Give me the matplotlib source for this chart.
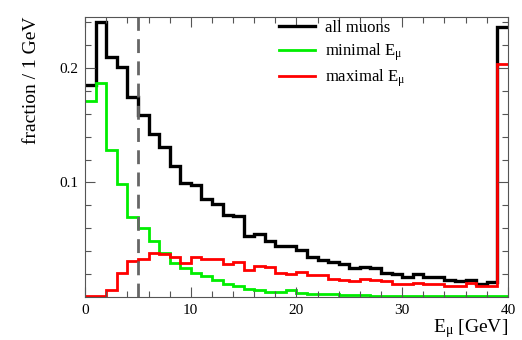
import numpy as np
import matplotlib
matplotlib.use("Agg")
import matplotlib.pyplot as plt

plt.rcParams['font.family'] = ['Liberation Serif', 'DejaVu Serif']
plt.rcParams['mathtext.fontset'] = 'custom'
plt.rcParams['mathtext.rm'] = 'Liberation Serif'
plt.rcParams['mathtext.it'] = 'Liberation Serif:italic'

# 1 GeV bins from 0 to 40 GeV
bin_edges = np.arange(0, 41, 1)

all_muons = [0.1855, 0.240, 0.210, 0.201, 0.175, 0.159, 0.142, 0.131, 0.114, 0.0994,
             0.098, 0.0858, 0.0808, 0.072, 0.0703, 0.0532, 0.0547, 0.0485, 0.0448, 0.0442,
             0.0413, 0.0349, 0.0326, 0.0305, 0.0285, 0.0253, 0.026, 0.0256, 0.0212, 0.0203,
             0.0174, 0.0203, 0.0174, 0.0174, 0.0145, 0.014, 0.0145, 0.0116, 0.013, 0.236]
minimal_e = [0.1715, 0.1866, 0.128, 0.0988, 0.0698, 0.0602, 0.0485, 0.0387, 0.030, 0.0253,
             0.0212, 0.018, 0.0145, 0.011, 0.0096, 0.0073, 0.0058, 0.0044, 0.0044, 0.0058,
             0.0035, 0.0023, 0.0023, 0.003, 0.002, 0.0015, 0.0015, 0.001, 0.001, 0.001,
             0.0008, 0.0008, 0.0007, 0.0006, 0.0006, 0.0005, 0.0005, 0.0005, 0.0005, 0.0005]
maximal_e = [0.001, 0.001, 0.0064, 0.021, 0.0314, 0.0334, 0.0387, 0.0378, 0.035, 0.030,
             0.035, 0.033, 0.0334, 0.029, 0.0305, 0.0233, 0.0267, 0.026, 0.021, 0.0203,
             0.0218, 0.0195, 0.0195, 0.016, 0.015, 0.014, 0.016, 0.0145, 0.014, 0.0116,
             0.0116, 0.0122, 0.0116, 0.0116, 0.0096, 0.0096, 0.0122, 0.0093, 0.0093, 0.2035]
cut_energy = 5

fig = plt.figure(figsize=(5.22, 3.4), dpi=100)
ax = fig.add_axes([0.163, 0.1265, 0.81, 0.8235])

ax.stairs(all_muons, bin_edges, baseline=None, color='black', linewidth=2.4,
          label='all muons')
ax.stairs(minimal_e, bin_edges, baseline=None, color='#00ee00', linewidth=2.0,
          label=r'minimal E$_{\mathrm{\mu}}$')
ax.stairs(maximal_e, bin_edges, baseline=None, color='#ff0000', linewidth=2.0,
          label=r'maximal E$_{\mathrm{\mu}}$')
ax.axvline(cut_energy, color='#666666', linewidth=2.0, linestyle=(0, (5, 3)))

ax.set_xlim(0, 40)
ax.set_ylim(0, 0.2445)
ax.set_xticks([0, 10, 20, 30, 40])
ax.set_xticks(np.arange(0, 41, 2), minor=True)
ax.set_yticks([0.1, 0.2])
ax.set_yticklabels(['0.1', '0.2'])
ax.set_yticks(np.arange(0.02, 0.245, 0.02), minor=True)
ax.tick_params(which='both', direction='in', top=True, right=True,
               labelsize=11, colors='black')
ax.tick_params(which='major', length=7, width=0.8, color='#555555', pad=5)
ax.tick_params(which='minor', length=4, width=0.8, color='#555555')
for sp in ax.spines.values():
    sp.set_color('#555555')
    sp.set_linewidth(0.8)

ax.set_xlabel(r'E$_{\mathrm{\mu}}$ [GeV]', fontsize=14, loc='right', labelpad=0)
ax.set_ylabel('fraction / 1 GeV', fontsize=14, loc='top', labelpad=14)

ax.legend(loc='upper left', bbox_to_anchor=(0.43, 1.03), frameon=False,
          fontsize=12, handlelength=2.2, handletextpad=0.6,
          labelspacing=0.3, borderaxespad=0.3)

fig.savefig('out.png', dpi=100)
